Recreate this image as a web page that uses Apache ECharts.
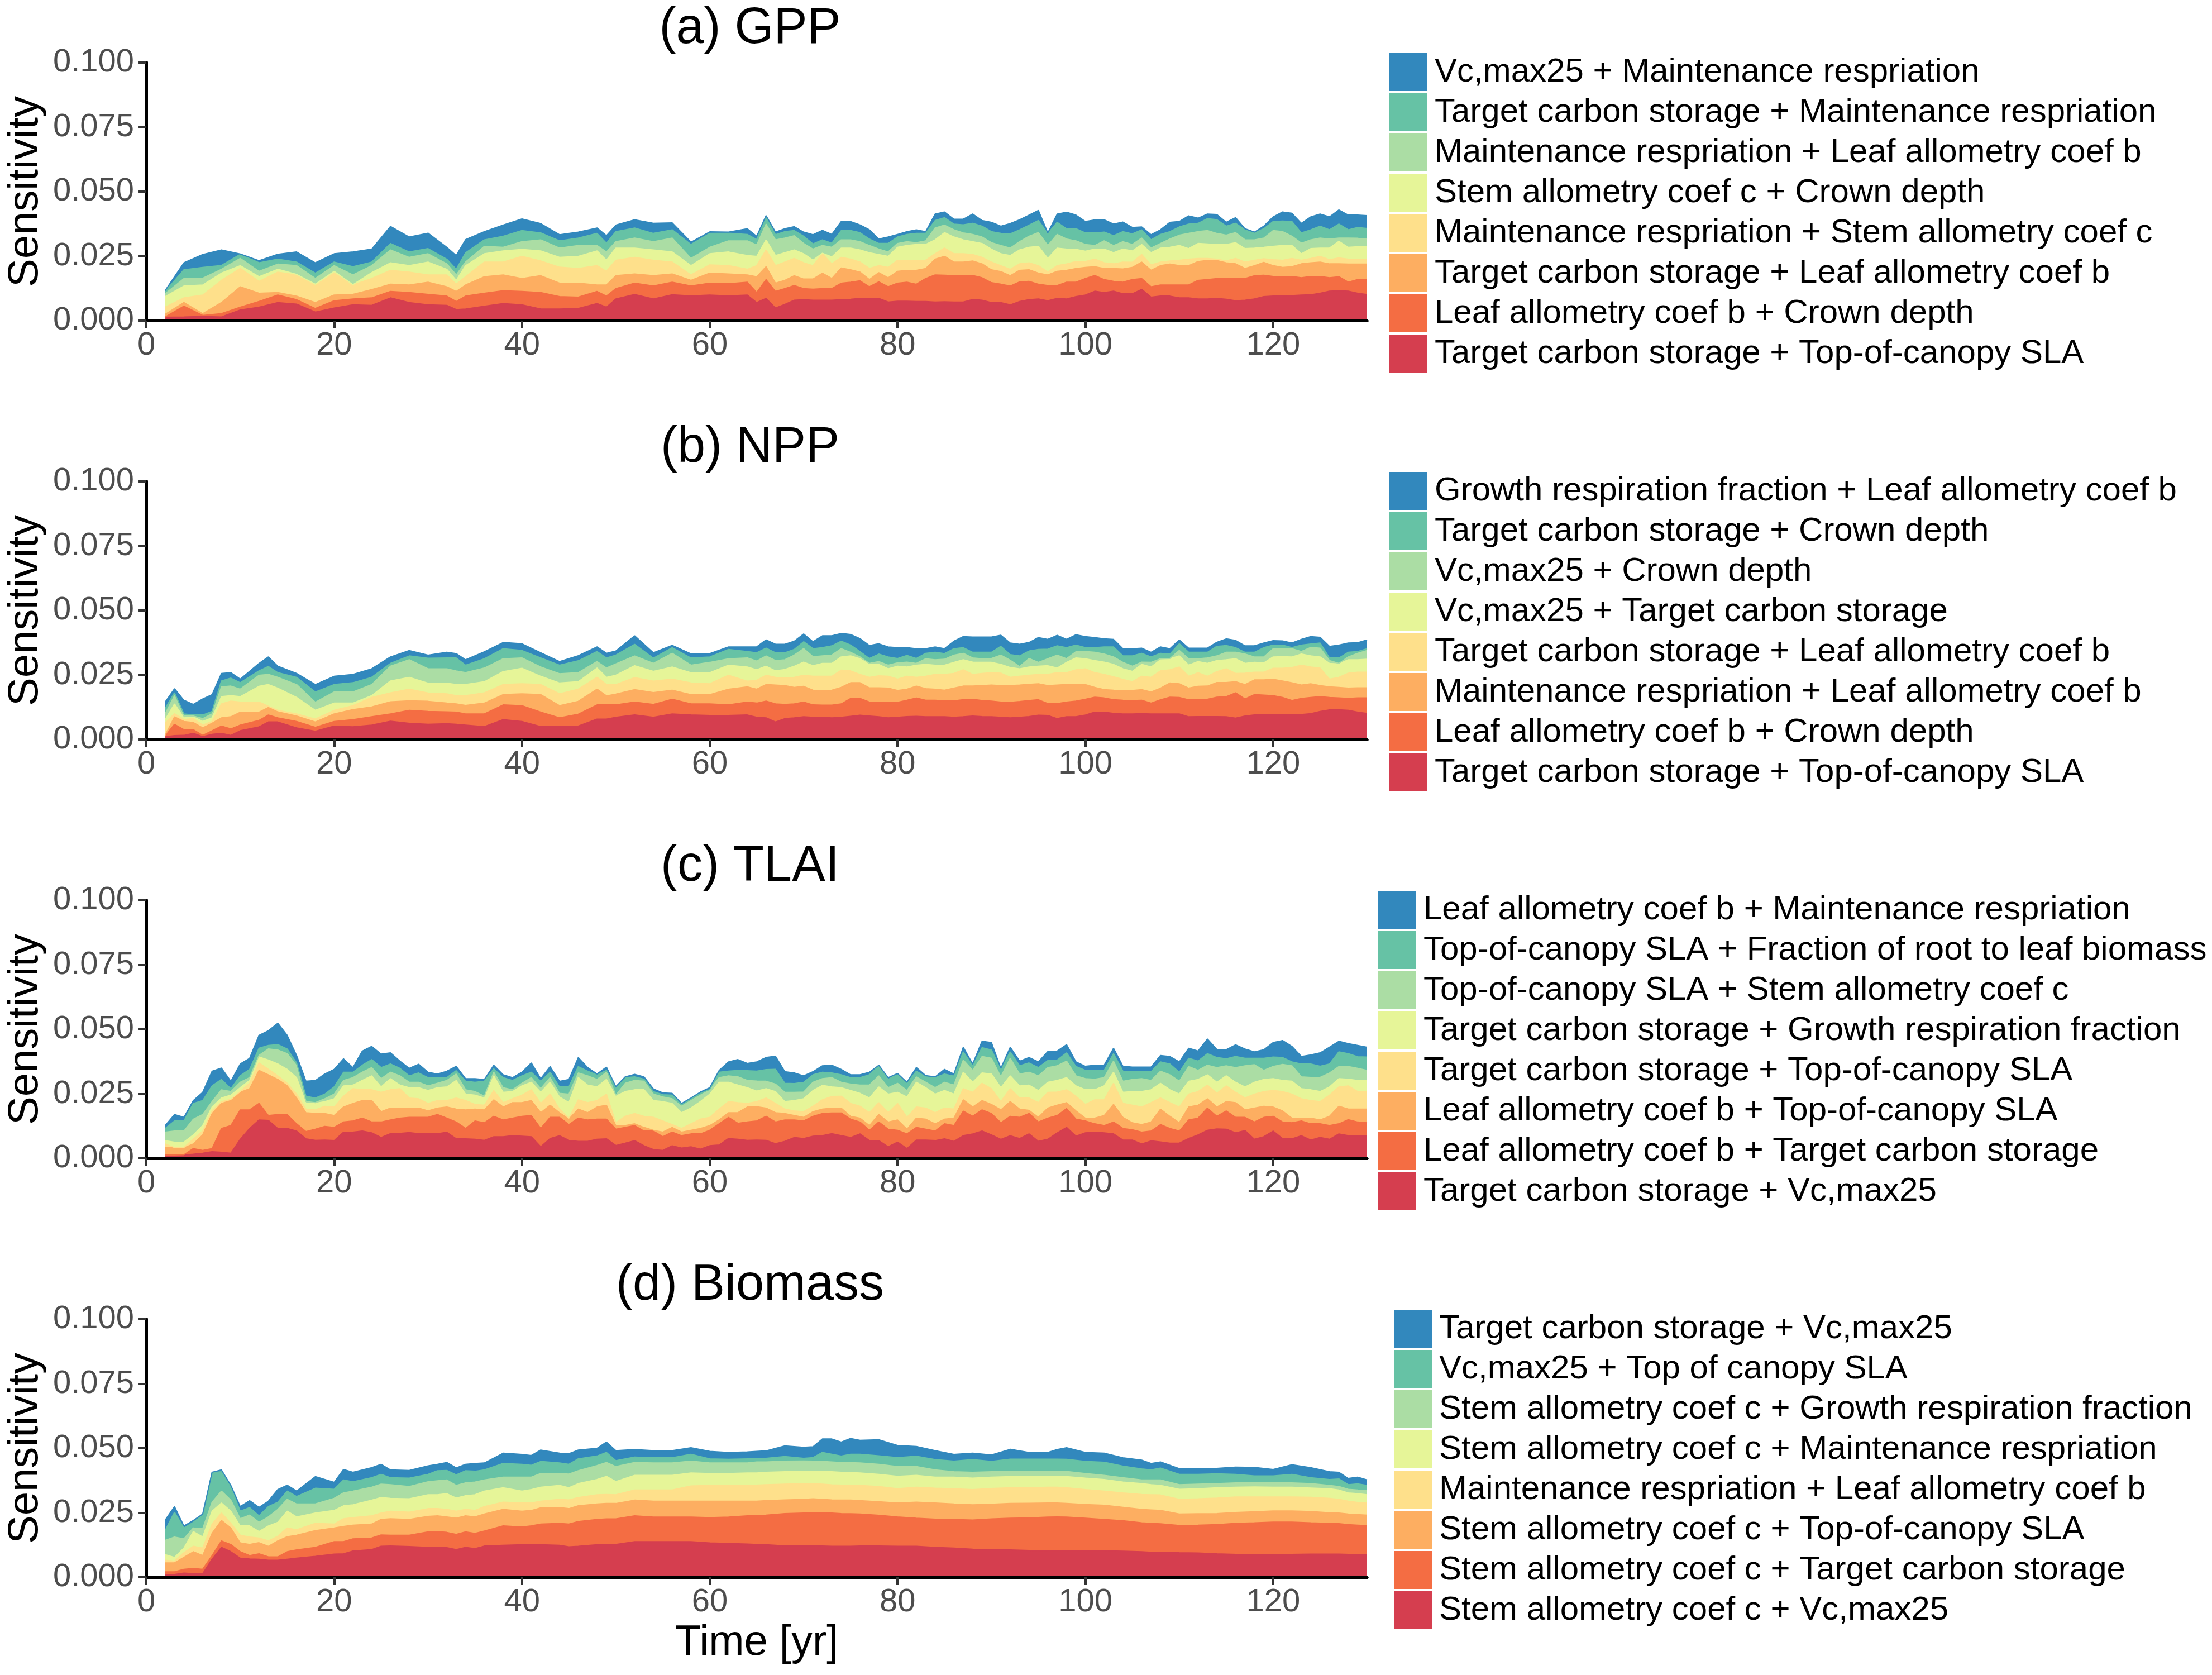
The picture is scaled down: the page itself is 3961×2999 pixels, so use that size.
<!DOCTYPE html>
<html><head><meta charset="utf-8">
<script src="https://cdn.jsdelivr.net/npm/echarts@6/dist/echarts.min.js"></script>
<style>html,body{margin:0;padding:0;background:#fff}#c{width:3961px;height:2999px}</style>
</head><body><div id="c"></div><script>
// Spectral palette, bottom layer -> top layer
const COLORS = ['#D53E4F','#F46D43','#FDAE61','#FEE08B','#E6F598','#ABDDA4','#66C2A5','#3288BD'];
const FONT = 'Liberation Sans, Arial, sans-serif';
const X_MAX = 130, X_STEP = 20, Y_MAX = 0.1, Y_STEP = 0.025;
const UNIT = 1e-3; // the "Tops" arrays below are in units of 1e-3 (sensitivity)

// ---------- (a) GPP ----------
const gppNames = ['Vc,max25 + Maintenance respriation','Target carbon storage + Maintenance respriation','Maintenance respriation + Leaf allometry coef b','Stem allometry coef c + Crown depth','Maintenance respriation + Stem allometry coef c','Target carbon storage + Leaf allometry coef b','Leaf allometry coef b + Crown depth','Target carbon storage + Top-of-canopy SLA'];
const gppYears = [2,4,6,8,10,12,14,16,18,20,22,24,26,28,30,32,33,34,36,38,40,42,44,46,48,49,50,52,54,56,58,60,62,64,65,66,67,68,69,70,71,72,73,74,75,76,77,78,79,80,81,82,83,84,85,86,87,88,89,90,91,92,93,94,95,96,97,98,99,100,101,102,103,104,105,106,107,108,109,110,111,112,113,114,115,116,117,118,119,120,121,122,123,124,125,126,127,128,129,130];
// cumulative top of each stacked layer (bottom -> top)
const gppTops = [
[1.3,1.4,2.4,5.2,9.3,10.4,11.3,11.6],[1.4,5.6,7.0,8.8,13.4,16.3,19.7,22.4],[1.6,2.0,2.7,9.9,13.8,16.4,20.6,25.6],[1.4,2.7,7.0,15.6,18.4,19.9,21.4,27.4],
[4.1,5.2,13.1,20.2,21.3,24.1,25.7,25.8],[5.2,7.4,10.6,15.2,17.0,19.1,22.4,23.2],[7.0,9.9,10.9,18.8,19.9,21.9,23.8,25.7],[6.4,8.1,9.5,17.7,17.9,21.3,22.7,26.6],
[3.3,4.7,7.0,13.6,14.1,16.3,18.4,22.4],[4.9,7.7,9.9,18.4,19.1,21.3,22.7,25.9],[6.1,8.4,10.2,13.8,13.9,17.7,20.9,26.6],[5.9,8.8,12.0,16.3,18.6,21.3,22.7,27.7],
[8.8,11.3,14.1,19.5,22.4,27.4,29.9,36.5],[7.0,10.9,13.8,18.8,21.3,24.5,26.6,32.4],[6.1,10.2,14.9,17.7,22.7,25.9,27.9,33.9],[5.9,9.5,13.1,17.7,19.9,22.0,23.8,28.4],
[4.3,7.4,11.3,14.1,15.6,17.7,19.9,25.2],[4.5,9.5,13.8,17.0,21.3,22.7,26.3,31.4],[5.6,10.6,17.0,22.7,25.9,28.8,31.3,34.5],[6.6,11.6,17.7,22.7,27.0,28.4,32.7,37.0],
[6.1,11.3,16.3,24.9,27.6,30.6,34.9,39.4],[4.5,10.9,17.4,23.1,27.0,31.3,34.0,37.6],[4.5,9.3,14.5,20.7,24.5,28.1,30.9,33.3],[4.7,9.1,14.5,20.2,24.9,29.1,32.0,34.3],
[6.6,11.3,13.8,21.3,27.0,29.1,33.8,35.9],[5.2,9.5,13.8,19.1,23.4,26.6,30.0,32.9],[8.4,12.4,17.4,23.4,28.1,30.6,34.5,37.0],[10.1,14.5,18.1,24.5,28.1,32.0,35.9,39.1],
[8.4,13.4,17.4,23.4,27.4,30.6,33.8,37.7],[10.0,14.9,18.1,22.7,26.6,32.0,35.2,37.9],[9.6,13.4,15.6,17.7,21.3,24.1,29.5,30.4],[9.9,14.5,18.4,21.6,25.9,28.4,33.8,34.4],
[9.6,14.3,18.1,21.3,26.6,30.9,33.9,34.3],[9.9,14.9,17.7,19.9,25.2,30.9,33.4,35.6],[7.0,10.9,17.0,21.3,24.9,29.3,31.4,32.7],[8.6,15.9,20.9,27.4,31.3,37.4,39.9,40.7],
[4.9,11.3,14.5,21.3,25.2,31.3,33.3,34.3],[6.3,12.4,15.6,22.7,26.3,32.0,34.5,35.6],[7.9,13.6,17.4,24.1,27.4,32.9,34.9,36.4],[8.1,12.4,16.1,22.4,25.9,29.9,32.7,34.3],
[7.9,12.2,16.1,21.3,23.4,27.7,29.7,33.3],[7.9,12.4,18.4,25.9,26.1,29.1,31.3,35.0],[7.9,12.4,16.3,22.0,24.7,28.4,30.0,33.4],[8.1,14.5,20.4,24.5,28.1,31.3,34.9,38.4],
[8.3,14.9,19.7,23.8,28.1,31.3,34.9,38.4],[8.6,15.4,18.8,22.7,27.4,30.6,34.1,37.1],[8.6,13.1,15.9,20.2,26.3,29.1,31.6,35.2],[8.6,15.0,18.6,21.3,25.6,27.7,29.9,31.6],
[7.2,13.1,16.6,20.6,24.9,26.6,29.9,32.4],[7.5,14.5,19.1,23.4,28.4,29.9,32.4,33.4],[7.5,14.9,19.5,23.4,29.1,30.6,33.4,34.5],[7.4,14.1,19.5,23.4,29.5,30.2,33.8,35.2],
[7.4,16.3,20.2,23.4,29.5,30.9,33.8,34.5],[7.2,17.7,23.8,25.9,31.3,35.9,38.8,41.3],[7.3,17.6,24.9,28.1,34.1,37.0,39.9,42.1],[7.2,17.4,22.7,25.9,32.4,35.2,37.4,39.3],
[7.2,17.4,22.7,25.9,31.3,34.0,37.1,39.3],[8.2,17.5,23.1,25.6,30.6,33.4,37.7,41.3],[7.9,16.6,22.0,24.5,29.9,32.4,36.6,38.8],[7.0,14.7,19.7,22.7,27.7,30.2,34.5,38.1],
[7.0,14.1,19.0,21.3,25.9,29.1,33.8,36.6],[6.1,13.4,17.4,19.9,25.2,28.1,33.6,37.6],[7.4,15.0,19.5,22.0,27.4,30.6,35.2,39.1],[8.1,15.2,19.7,22.4,28.4,32.7,37.0,40.9],
[8.4,14.1,18.4,21.3,28.8,34.1,38.8,42.7],[7.7,13.6,17.7,18.8,24.1,29.1,33.8,34.0],[8.6,13.6,19.1,21.3,28.1,33.4,38.1,41.3],[8.4,14.9,19.5,22.0,27.7,31.6,35.6,42.0],
[9.3,14.9,20.2,22.9,27.6,30.9,35.6,40.9],[9.9,16.3,20.6,22.9,26.9,29.5,34.0,38.4],[11.4,17.5,20.9,23.8,27.7,29.1,34.0,39.0],[10.9,15.9,20.2,22.4,27.7,30.9,34.3,39.1],
[11.4,15.2,20.2,22.0,26.3,29.1,32.9,37.4],[10.4,14.9,20.0,22.7,27.7,30.6,34.5,38.2],[10.4,15.9,20.6,22.6,27.0,29.5,33.6,36.1],[12.1,16.3,22.7,25.6,29.5,32.0,35.2,36.3],
[9.1,13.1,19.5,21.6,26.3,28.1,31.3,33.3],[9.5,13.8,21.3,22.7,28.1,29.9,33.4,35.2],[9.5,13.8,21.9,23.1,28.4,31.6,34.5,38.1],[8.8,13.8,21.3,23.4,29.1,33.1,36.3,38.4],
[8.8,13.8,21.3,23.8,27.9,33.8,37.4,40.6],[8.4,15.6,22.9,24.1,29.9,34.5,37.7,39.7],[8.4,15.9,23.3,24.1,29.7,34.9,39.5,41.3],[8.6,16.3,23.3,23.8,29.5,33.8,39.1,41.1],
[8.3,16.3,22.4,23.1,29.5,33.1,36.6,38.1],[7.7,16.4,22.0,24.1,30.2,34.1,37.7,39.9],[7.9,16.3,20.2,22.7,27.9,31.3,35.2,35.6],[8.4,17.4,21.3,23.4,28.1,31.3,34.0,34.3],
[9.3,17.6,22.6,24.0,28.4,32.0,35.6,36.6],[9.5,17.1,21.3,23.6,28.8,34.9,38.4,40.2],[9.5,17.1,20.6,23.4,29.1,34.5,38.6,42.1],[9.7,17.1,20.9,24.1,29.1,32.7,38.4,41.6],
[9.9,16.6,22.0,23.4,25.9,30.0,34.0,37.7],[10.0,17.1,22.4,24.1,27.9,31.3,35.2,40.2],[10.6,17.1,22.7,24.9,28.1,32.0,36.6,41.3],[11.4,16.6,22.0,23.6,28.1,31.6,35.2,40.2],
[11.6,17.0,22.0,24.3,30.7,32.0,37.4,42.9],[11.4,14.9,21.9,23.8,28.4,32.0,35.2,40.9],[10.6,15.9,21.9,23.8,28.6,31.9,36.1,40.9],[10.1,15.9,21.9,23.8,28.6,31.6,35.7,40.7]
];

// ---------- (b) NPP ----------
const nppNames = ['Growth respiration fraction + Leaf allometry coef b','Target carbon storage + Crown depth','Vc,max25 + Crown depth','Vc,max25 + Target carbon storage','Target carbon storage + Leaf allometry coef b','Maintenance respriation + Leaf allometry coef b','Leaf allometry coef b + Crown depth','Target carbon storage + Top-of-canopy SLA'];
const nppYears = [2,3,4,5,6,7,8,9,10,12,13,14,16,18,20,22,24,26,28,30,32,33,34,36,38,40,42,44,46,48,49,50,52,54,56,58,60,62,64,65,66,67,68,69,70,71,72,73,74,75,76,77,78,79,80,81,82,83,84,85,86,87,88,89,90,91,92,93,94,95,96,97,98,99,100,101,102,103,104,105,106,107,108,109,110,111,112,113,114,115,116,117,118,119,120,121,122,123,124,125,126,127,128,129,130];
const nppTops = [
[1.1,1.3,1.6,6.3,7.7,9.9,12.0,14.5],[1.5,5.9,8.8,10.0,13.8,17.0,18.1,19.7],[1.6,3.8,7.0,7.7,8.4,9.1,9.9,15.2],[2.4,3.8,6.6,8.1,8.8,9.1,9.5,13.6],
[1.1,1.6,4.5,5.6,7.0,8.1,9.5,15.7],[2.0,3.4,6.3,7.0,8.4,9.9,10.9,17.4],[2.4,5.2,8.4,13.8,16.6,20.4,22.7,25.6],[1.6,4.1,8.8,14.9,17.0,20.7,23.8,25.9],
[3.4,5.6,10.6,14.5,16.6,19.5,22.0,23.4],[4.9,7.4,10.6,14.5,20.6,24.9,26.6,29.5],[6.8,9.5,12.4,12.9,21.3,25.2,28.3,32.0],[6.8,8.4,10.7,11.3,19.9,24.1,25.9,28.4],
[4.5,7.0,9.1,9.9,16.3,21.3,24.1,25.6],[3.2,4.7,6.8,7.9,11.3,14.4,18.4,21.3],[5.2,7.0,9.9,11.3,14.1,18.4,21.3,24.5],[4.9,7.7,11.6,13.1,14.1,18.4,22.0,25.2],
[5.6,8.8,12.6,16.3,17.0,21.3,24.1,27.4],[7.1,9.9,14.6,18.1,22.7,28.4,29.5,32.0],[6.3,11.3,15.0,19.5,24.1,30.9,32.4,34.5],[5.9,10.9,14.8,18.0,21.8,27.4,31.5,32.7],
[6.1,10.7,14.1,17.7,21.8,27.4,31.6,33.8],[5.9,10.6,13.8,17.0,21.3,26.6,31.6,33.3],[5.6,9.9,13.2,17.0,21.3,25.9,28.8,30.9],[5.0,9.9,14.1,18.1,22.4,27.7,31.3,34.0],
[7.7,13.4,17.4,21.3,26.3,31.3,35.2,37.6],[7.0,13.1,17.7,21.6,27.6,31.6,34.5,37.1],[5.0,10.6,17.4,21.3,24.5,28.1,31.6,33.6],[5.2,8.4,13.1,17.7,21.9,25.5,28.8,30.2],
[5.2,9.8,14.8,19.5,22.4,25.9,30.5,32.5],[7.9,13.4,19.5,24.1,27.7,30.2,34.1,35.9],[7.9,13.4,16.9,21.3,24.1,27.7,31.6,33.4],[8.6,13.4,17.6,21.3,24.9,29.3,32.7,34.3],
[9.5,14.5,19.3,24.0,28.6,32.4,36.9,40.2],[8.6,13.6,18.2,22.6,26.4,29.5,31.5,33.6],[9.9,15.6,19.1,23.4,28.1,33.4,35.6,36.5],[9.5,13.8,17.4,21.9,25.9,28.8,31.6,33.2],
[9.3,13.8,17.4,21.6,25.9,29.9,32.0,33.3],[9.3,13.4,19.5,24.9,28.8,31.3,34.9,35.9],[9.5,14.5,20.4,22.6,28.1,31.6,34.1,35.9],
[8.6,14.1,19.5,22.9,27.0,30.4,33.6,35.9],[8.4,14.9,21.3,24.9,28.4,32.4,35.4,38.6],[6.8,13.8,21.1,24.1,26.6,30.6,33.6,36.9],[8.1,13.6,20.9,24.0,27.1,30.9,33.6,36.9],
[8.4,13.8,20.2,24.1,28.4,32.7,34.9,38.1],[8.8,14.5,20.6,24.9,30.0,35.2,37.9,40.9],[8.6,13.4,19.1,24.5,28.6,32.1,35.2,37.9],[8.6,13.3,19.0,24.5,29.5,32.4,35.6,40.2],
[8.4,13.3,19.1,24.5,29.5,32.7,36.3,40.2],[8.6,13.8,20.2,26.9,32.0,35.2,38.1,41.1],[9.0,15.9,22.0,26.6,32.4,33.8,36.6,40.7],[9.4,15.9,22.0,25.2,31.3,32.0,34.1,39.1],
[9.1,14.5,20.0,24.1,29.1,29.5,31.4,36.4],[8.8,14.4,20.0,24.7,29.1,30.2,33.1,37.1],[8.4,14.3,19.9,24.5,27.4,28.8,32.0,35.9],[8.6,14.4,19.0,23.4,28.4,29.7,31.4,35.6],
[8.9,15.2,19.5,24.5,28.1,30.0,32.6,35.6],[9.0,16.1,20.7,24.1,28.8,29.5,31.4,35.2],[8.8,15.2,19.7,24.5,29.1,31.3,33.4,35.2],[8.8,15.2,19.5,25.2,28.8,30.9,33.8,35.9],
[8.8,15.0,19.1,25.2,28.8,31.1,33.3,35.2],[8.6,15.0,19.9,25.6,29.9,32.7,35.2,38.1],[8.8,15.4,20.7,27.0,30.9,33.4,35.6,39.9],[9.1,15.6,20.7,25.2,30.0,31.6,33.8,39.7],
[8.9,15.1,20.9,25.6,29.9,31.3,33.8,39.7],[8.8,14.9,21.1,25.9,29.9,31.4,33.8,39.7],[8.6,14.5,20.9,25.7,29.1,32.7,36.1,40.4],[8.4,14.4,20.9,24.1,27.9,30.7,32.9,37.4],
[8.6,14.7,21.1,24.5,27.4,28.3,32.4,36.9],[8.9,15.1,21.4,24.9,28.1,31.4,34.3,37.6],[9.4,15.4,21.6,25.2,28.4,29.9,34.9,39.5],[9.3,13.9,20.9,25.2,28.6,31.3,35.0,38.8],
[8.1,13.9,21.1,25.9,27.7,32.7,36.3,40.4],[8.8,14.5,21.3,25.9,29.9,31.3,35.6,38.8],[8.8,14.9,21.3,27.0,31.6,34.0,36.6,40.6],[9.5,15.6,21.3,27.4,31.3,34.1,35.6,39.9],
[10.6,16.4,20.2,25.9,30.6,33.8,35.6,39.5],[10.6,16.1,19.3,25.2,30.0,33.1,35.9,39.0],[10.1,15.4,19.1,24.3,29.1,32.0,35.9,38.8],[9.9,15.2,19.0,23.3,27.4,29.9,32.4,35.2],
[9.9,15.1,19.0,22.4,26.4,28.4,32.4,35.2],[10.0,15.2,19.3,24.5,29.1,30.0,33.4,35.4],[9.9,14.1,18.4,24.1,28.1,29.9,32.0,33.8],[9.9,15.4,19.9,26.6,30.9,31.3,33.4,35.9],
[9.9,16.4,21.9,27.0,31.3,31.4,33.1,35.2],[9.9,16.3,21.6,28.1,32.4,34.5,37.1,38.6],[8.8,15.4,19.9,24.5,28.8,31.3,33.8,35.4],[8.9,15.4,20.6,25.9,30.2,31.3,33.8,35.4],
[8.9,15.6,20.7,24.5,29.5,31.6,33.8,35.4],[8.9,16.4,22.1,26.3,30.6,32.4,36.1,37.7],[8.8,16.6,22.1,27.4,30.9,33.8,36.4,39.0],[8.3,18.1,22.4,25.6,31.3,33.8,35.6,38.4],
[9.1,15.7,21.3,25.7,29.5,33.1,33.8,36.3],[9.5,17.4,23.1,26.1,29.9,32.0,33.8,36.3],[9.6,17.2,23.1,26.1,29.7,32.0,35.6,37.4],[9.6,17.0,23.3,27.6,32.0,35.2,36.6,38.3],
[9.6,16.3,22.7,27.6,32.1,35.2,36.6,38.2],[9.6,15.1,22.0,27.9,32.0,35.2,35.6,37.4],[9.7,15.9,21.1,28.8,33.1,34.1,36.6,38.8],[10.0,16.3,21.6,28.1,32.4,35.7,37.0,39.9],
[10.9,16.6,20.9,27.7,32.0,35.4,37.4,39.6],[11.5,16.3,20.4,23.4,29.5,30.6,31.6,36.1],[11.5,16.1,20.2,24.1,29.3,29.5,31.6,36.6],[11.3,15.9,19.9,25.7,30.9,32.0,33.8,37.4],
[10.6,16.1,20.0,26.1,30.9,33.4,34.1,37.5],[10.1,16.1,20.0,26.1,31.1,34.5,35.2,38.6]
];

// ---------- (c) TLAI ----------
const tlaiNames = ['Leaf allometry coef b + Maintenance respriation','Top-of-canopy SLA + Fraction of root to leaf biomass','Top-of-canopy SLA + Stem allometry coef c','Target carbon storage + Growth respiration fraction','Target carbon storage + Top-of-canopy SLA','Leaf allometry coef b + Top-of-canopy SLA','Leaf allometry coef b + Target carbon storage','Target carbon storage + Vc,max25'];
const tlaiYears = [2,3,4,5,6,7,8,9,10,11,12,13,14,15,16,17,18,19,20,21,22,23,24,25,26,27,28,29,30,31,32,33,34,35,36,37,38,39,40,41,42,43,44,45,46,47,48,49,50,51,52,53,54,55,56,57,58,59,60,61,62,63,64,65,66,67,68,69,70,71,72,73,74,75,76,77,78,79,80,81,82,83,84,85,86,87,88,89,90,91,92,93,94,95,96,97,98,99,100,101,102,103,104,105,106,107,108,109,110,111,112,113,114,115,116,117,118,119,120,121,122,123,124,125,126,127,128,129,130];
const tlaiTops = [
[1.1,1.3,4.1,5.6,6.9,10.2,11.6,12.7],[1.1,1.3,4.1,4.2,6.3,10.6,14.5,17.0],[1.3,1.4,4.1,4.2,6.3,10.6,14.5,15.9],[1.6,3.8,5.6,7.4,9.1,15.2,21.3,22.4],
[2.0,3.1,9.1,10.6,12.7,17.0,22.4,25.6],[2.6,3.8,17.4,18.4,19.9,22.0,28.1,33.8],[2.4,11.6,21.3,22.0,23.4,26.6,30.6,35.0],[2.0,12.7,22.4,22.9,24.5,25.9,27.0,29.9],
[7.4,18.8,25.6,25.9,27.4,29.5,32.0,36.6],[11.6,18.8,27.0,29.1,30.2,31.3,34.5,38.8],[14.9,21.3,34.1,37.0,39.3,39.9,42.7,47.7],[14.7,16.6,32.4,34.5,38.1,42.4,43.8,49.5],
[11.6,17.0,30.6,32.0,36.6,42.0,44.1,52.4],[11.6,17.0,28.1,29.1,34.5,40.6,42.4,47.7],[10.6,13.4,23.4,24.9,31.3,35.9,37.0,39.9],[7.6,10.4,17.7,19.1,21.3,22.0,24.1,29.9],
[7.0,11.3,17.4,18.8,21.3,21.6,23.4,30.2],[7.1,12.4,17.4,20.2,22.0,23.1,24.9,32.7],[6.9,12.0,16.6,19.9,23.1,24.9,27.7,34.5],[10.2,14.1,19.9,24.1,28.1,30.2,33.4,38.6],
[10.2,14.5,21.3,27.0,28.4,31.3,33.4,35.2],[10.6,15.6,22.4,26.6,30.2,33.4,36.1,41.6],[9.9,14.1,22.4,26.6,32.0,35.2,38.3,43.4],[8.1,14.1,18.1,25.6,27.7,30.9,35.2,40.4],
[9.6,14.9,19.5,26.6,30.9,33.4,36.6,40.9],[9.7,15.6,19.5,27.0,28.4,32.0,34.9,37.7],[10.0,15.9,19.5,23.4,27.4,29.5,32.0,34.9],[9.6,15.9,19.5,23.1,27.4,29.5,33.1,36.5],
[9.6,15.9,18.4,21.3,26.3,28.1,31.3,33.4],[9.6,17.0,19.5,22.4,27.4,29.1,31.3,32.7],[10.1,15.6,19.9,22.4,27.7,30.2,31.3,33.8],[7.6,14.1,19.1,23.4,30.2,32.7,34.0,35.7],
[7.6,11.6,18.8,22.4,24.9,26.6,29.9,30.9],[7.4,14.5,19.1,20.9,24.5,25.9,29.5,30.9],[7.0,13.8,18.8,20.6,23.4,24.1,29.9,30.6],[8.4,16.3,22.7,26.3,32.0,33.4,34.7,36.1],
[8.4,14.9,19.9,21.6,25.6,27.4,31.3,32.4],[8.8,15.6,21.6,23.1,25.9,26.6,30.2,31.3],[8.6,16.3,21.6,24.5,28.1,29.1,32.0,33.4],[8.4,16.6,22.4,26.6,29.5,31.3,33.4,37.0],
[4.5,11.6,17.7,21.3,25.6,27.0,29.9,30.9],[7.7,15.9,20.6,24.9,29.5,31.3,33.4,35.6],[8.8,15.9,17.7,19.1,23.8,25.2,27.7,29.9],[7.0,13.1,15.2,15.6,21.6,24.9,27.7,30.6],
[6.6,15.6,19.1,22.7,31.3,33.1,35.6,39.1],[6.6,14.9,17.7,21.6,28.4,32.0,33.8,35.2],[7.4,15.2,19.9,22.4,27.7,30.6,32.4,32.7],[7.6,15.2,20.6,24.9,30.6,33.4,34.1,35.4],
[5.0,11.3,12.7,13.8,24.1,24.5,27.7,27.8],[5.9,12.0,12.7,16.3,25.9,29.1,31.3,31.6],[6.9,12.7,13.4,17.4,26.6,30.2,31.6,32.6],[4.9,10.6,12.0,16.3,26.6,29.9,30.7,31.6],
[3.4,10.6,10.9,15.9,22.4,24.9,25.9,26.9],[3.1,8.4,10.2,14.5,22.0,23.8,24.7,25.4],[4.9,10.2,12.0,13.1,21.3,23.1,24.5,25.2],[4.0,8.8,10.2,11.6,17.7,20.2,20.9,21.3],
[4.5,9.5,10.9,13.4,19.5,22.4,23.1,23.4],[3.6,9.5,11.6,15.2,22.0,24.5,25.2,25.7],[4.9,10.9,12.7,15.9,24.9,26.6,26.7,27.4],[5.2,13.4,14.9,19.1,29.5,31.3,33.4,34.1],
[7.7,15.9,17.7,22.0,29.5,32.0,33.8,37.4],[7.4,13.6,17.7,21.6,28.4,31.6,34.1,38.3],[7.0,14.1,19.9,21.3,27.4,30.2,34.0,36.8],
[7.1,14.5,20.0,22.0,26.1,30.0,33.8,37.4],[7.0,16.3,19.5,23.4,27.0,29.9,34.4,39.1],[5.7,14.1,17.7,21.3,25.9,28.8,34.5,39.6],[6.6,14.9,17.4,19.1,22.0,25.6,29.1,33.6],
[8.1,14.9,16.6,18.4,22.4,25.6,29.0,33.1],[7.7,14.5,15.9,18.1,23.1,25.7,29.5,32.0],[8.6,16.3,18.1,20.2,26.3,29.5,32.4,33.6],[8.8,17.4,19.1,22.7,28.3,30.9,33.4,35.9],
[9.6,17.6,19.5,24.0,27.7,31.3,33.1,36.1],[8.8,17.6,19.5,24.1,27.4,29.5,32.4,34.5],[8.1,15.2,16.3,21.3,26.3,28.8,31.3,32.4],[9.5,14.1,15.6,20.2,25.2,28.4,31.3,32.4],
[6.9,10.9,12.7,17.7,23.4,28.4,32.4,33.4],[6.9,14.1,17.0,21.6,27.7,32.0,35.9,36.1],[4.5,11.3,14.1,17.7,24.9,27.4,30.6,31.3],[6.3,10.9,14.9,21.3,25.6,29.1,32.7,32.9],
[3.8,9.5,11.3,15.9,23.8,26.3,29.1,29.5],[7.1,12.0,15.6,19.9,29.5,31.6,33.8,35.2],[7.1,11.3,15.2,19.5,27.4,29.5,31.6,32.1],[6.9,10.6,13.4,17.7,24.9,27.4,31.3,31.6],
[7.6,13.4,15.2,19.5,26.3,29.5,32.7,34.5],[6.6,12.7,15.6,19.1,24.9,28.4,31.9,32.7],[8.8,18.3,22.7,27.0,33.4,38.1,41.3,43.1],[9.5,16.3,19.9,25.6,29.5,34.1,35.9,36.6],
[10.6,18.8,22.4,29.1,33.1,39.5,42.9,45.4],[9.1,17.4,20.9,27.0,32.7,38.8,42.0,44.9],[7.4,13.8,18.8,22.0,27.4,31.6,34.5,34.9],[8.8,16.3,22.0,27.0,32.0,38.8,41.3,43.1],
[7.7,15.9,19.1,23.4,28.1,32.7,35.9,37.7],[9.5,17.4,18.6,23.4,28.4,33.4,37.0,39.1],[6.6,14.1,15.9,21.6,26.3,32.0,35.2,37.4],[7.4,15.6,19.5,25.6,29.5,35.2,37.9,41.4],
[9.9,16.6,20.6,25.7,30.2,35.9,38.1,41.6],[12.0,19.3,21.6,26.6,31.3,37.7,40.9,44.1],[8.6,15.2,18.4,24.1,28.1,32.0,35.6,37.4],[9.9,14.5,15.6,20.9,26.6,30.9,34.1,35.7],
[10.2,13.4,15.6,22.7,26.6,30.7,34.1,36.1],[9.9,12.7,16.6,22.7,28.1,31.3,34.1,36.1],[9.5,14.1,20.9,29.1,33.4,37.7,40.6,42.7],[7.1,11.6,15.9,21.3,25.6,29.9,33.8,35.7],
[7.1,11.1,13.8,20.6,25.9,30.6,33.6,35.4],[5.6,10.2,13.1,19.9,25.9,30.9,33.6,35.4],[6.8,10.6,14.1,21.6,26.6,30.2,33.6,35.4],[6.4,13.1,19.1,23.4,29.1,33.8,37.4,39.9],
[5.9,11.6,16.3,21.6,26.6,32.4,36.6,39.5],[5.9,10.6,13.8,19.9,24.9,29.9,33.4,37.4],[7.7,14.9,19.9,24.9,29.9,35.6,38.8,42.7],[9.1,15.6,20.6,25.9,30.6,34.1,37.7,41.6],
[10.9,19.5,23.1,28.4,32.4,36.1,40.6,46.3],[11.4,16.3,19.9,25.2,29.5,35.2,39.1,42.2],[11.3,18.4,22.0,28.1,32.0,35.9,38.6,42.1],[9.9,15.9,21.6,25.6,29.5,35.2,39.5,44.0],
[10.8,15.9,18.8,23.4,27.7,35.9,38.8,42.4],[7.4,14.1,19.5,24.9,29.5,36.3,38.8,41.3],[8.4,15.9,20.2,25.9,30.6,34.1,38.8,42.1],[10.6,16.3,19.9,26.3,30.9,35.6,39.3,44.9],
[7.7,14.1,18.4,25.9,30.2,36.4,39.1,45.7],[7.6,13.8,15.6,24.9,29.9,35.9,37.4,43.4],[8.8,14.5,15.6,23.1,27.0,31.6,36.6,39.5],[7.1,13.4,15.6,22.4,26.6,31.4,36.6,40.1],
[8.1,13.4,14.9,22.0,25.9,31.4,35.7,40.9],[7.4,12.7,16.3,24.5,27.7,33.1,36.6,43.1],[9.5,13.4,20.2,27.7,30.9,35.6,41.3,45.4],[8.8,15.0,19.1,28.1,30.7,35.6,40.6,44.5],
[8.8,14.1,19.1,25.9,30.2,34.9,39.4,43.8],[8.8,13.8,19.1,25.9,30.2,34.1,39.3,43.1]
];

// ---------- (d) Biomass ----------
const bioNames = ['Target carbon storage + Vc,max25','Vc,max25 + Top of canopy SLA','Stem allometry coef c + Growth respiration fraction','Stem allometry coef c + Maintenance respriation','Maintenance respriation + Leaf allometry coef b','Stem allometry coef c + Top-of-canopy SLA','Stem allometry coef c + Target carbon storage','Stem allometry coef c + Vc,max25'];
const bioYears = [2,3,4,5,6,7,8,9,10,11,12,13,14,15,16,18,20,21,22,24,25,26,28,30,31,32,33,34,35,36,38,40,41,42,44,45,46,48,49,50,52,54,56,58,60,62,64,65,66,68,70,71,72,73,74,75,76,78,80,82,84,86,88,90,92,94,96,97,98,100,102,104,106,107,108,110,112,114,116,118,120,122,124,126,127,128,129,130];
const bioTops = [
[1.1,2.1,5.6,6.6,8.8,14.3,18.1,22.1],[1.1,2.1,5.6,6.3,7.7,15.6,25.2,27.4],[1.6,3.1,7.7,9.5,11.3,14.9,19.1,19.9],[1.4,3.4,9.9,12.0,17.7,19.1,21.3,22.0],
[1.4,3.1,8.4,11.3,15.6,18.8,24.1,24.5],[7.0,8.4,17.0,20.6,25.6,29.1,40.6,40.7],[11.6,14.1,22.0,24.9,28.8,33.4,40.9,41.6],[9.9,12.7,19.1,20.9,25.6,29.9,34.9,35.6],
[7.4,9.9,13.3,16.3,19.9,22.7,25.6,27.4],[7.1,8.4,12.7,15.6,19.9,24.1,27.0,29.7],[7.0,9.1,13.4,15.2,17.7,21.3,23.8,27.1],[6.6,7.9,12.0,14.1,19.9,23.4,27.4,29.5],
[6.6,7.9,14.1,15.9,21.3,26.3,29.1,34.0],[7.0,9.9,15.7,19.1,25.6,30.2,33.4,35.7],[7.4,10.6,16.3,18.4,23.4,28.4,31.3,33.4],[8.1,11.6,18.1,20.9,24.9,28.4,34.5,39.0],
[9.0,13.8,19.1,20.6,25.9,30.6,34.1,36.8],[9.1,13.8,19.7,22.7,27.7,32.7,37.7,41.8],[10.2,14.9,20.2,23.1,28.1,33.4,37.0,40.7],[10.7,15.2,20.6,23.8,29.9,34.9,38.6,42.5],
[12.0,16.4,22.4,24.9,30.9,36.1,39.9,43.8],[12.1,16.3,22.7,25.6,30.6,35.9,38.6,41.6],[11.9,16.3,22.4,25.2,30.4,35.2,38.4,41.4],[11.6,17.6,23.6,26.6,32.0,37.0,39.9,43.2],
[11.6,17.7,23.8,26.6,32.0,37.4,41.3,43.8],[11.5,17.4,23.4,26.3,32.4,37.7,41.4,44.5],[10.7,16.6,22.9,25.6,30.7,35.6,39.7,42.4],[11.6,17.6,23.8,26.3,31.6,36.6,41.3,43.8],
[11.1,17.0,23.4,25.9,32.0,36.9,41.1,44.1],[12.1,17.9,24.5,27.4,33.4,37.7,41.6,44.3],[12.4,19.9,26.3,29.1,34.7,38.8,44.1,48.1],[12.6,19.5,25.6,28.8,33.4,38.8,43.8,47.6],
[12.6,19.9,25.9,28.8,34.0,38.8,43.4,47.2],[12.6,20.6,26.9,29.5,34.9,40.2,44.9,49.3],[12.4,20.9,27.0,30.2,35.6,40.2,44.3,48.1],[11.8,20.6,26.6,30.0,34.7,40.0,43.8,47.9],
[12.0,21.6,27.7,30.9,36.3,41.3,45.9,49.3],[12.6,22.4,28.4,32.0,37.9,43.3,47.0,50.0],[12.6,22.6,28.6,32.1,39.1,44.5,48.4,52.4],[12.7,22.6,28.6,32.0,37.1,42.9,45.2,49.1],
[13.8,23.8,29.9,33.8,39.5,44.5,46.6,49.5],[13.8,23.3,29.5,33.8,39.5,44.3,46.3,49.1],[13.8,23.3,29.5,33.8,39.5,44.3,46.3,49.1],[13.8,23.3,29.5,35.4,40.4,45.0,47.7,50.2],
[13.3,23.1,29.5,35.6,40.2,44.3,45.9,48.8],[13.1,23.3,29.5,35.6,40.2,44.3,45.7,48.4],[12.9,23.8,29.5,35.6,40.4,44.3,45.9,48.6],[12.7,23.9,29.5,35.7,40.4,44.7,45.9,48.8],
[12.6,24.1,29.7,35.9,40.7,44.7,46.1,49.0],[12.2,24.7,30.0,36.1,40.9,45.0,46.8,50.9],[12.2,24.9,30.2,36.3,41.1,45.1,46.1,50.4],[12.2,25.0,30.4,36.3,41.1,45.0,46.4,50.6],
[12.1,25.1,30.2,36.1,41.1,44.9,48.4,53.6],[12.0,24.9,30.0,35.8,40.9,44.7,47.7,53.6],[12.0,24.7,29.9,35.7,40.7,44.5,47.0,52.4],[12.0,24.6,29.9,35.7,40.6,44.4,47.7,53.8],
[12.1,24.5,29.7,35.6,40.4,44.3,47.7,53.1],[12.1,24.0,29.3,35.2,39.9,43.8,47.1,53.3],[12.0,23.4,28.8,34.3,39.1,42.9,46.4,51.1],[12.0,22.9,29.1,34.9,39.5,42.9,46.9,50.7],
[11.6,22.5,28.8,34.5,38.8,41.6,45.6,49.1],[11.3,22.4,28.4,34.3,38.8,40.9,45.0,47.6],[10.9,22.2,28.1,34.0,38.4,40.7,45.6,48.1],[10.8,22.6,28.3,34.4,38.8,40.9,44.9,47.4],
[10.6,22.9,28.6,34.7,39.0,41.1,45.8,49.6],[10.4,23.0,28.7,34.7,39.1,41.1,45.8,48.4],[10.3,23.3,28.8,34.9,39.1,41.1,45.8,48.4],[10.3,23.4,28.8,34.9,39.1,41.1,45.8,49.5],
[10.3,23.3,28.6,34.7,39.0,41.0,45.7,50.2],[10.3,22.9,28.2,34.0,38.4,40.2,44.9,48.4],[10.3,22.4,27.9,33.4,37.9,39.5,44.6,48.1],[10.1,21.9,27.1,32.7,36.9,38.6,43.1,46.3],
[9.9,21.1,26.3,32.1,36.3,37.7,42.0,45.4],[9.7,20.9,26.1,32.0,35.9,37.7,41.6,44.1],[9.7,20.7,25.9,31.9,35.6,37.7,42.3,44.7],[9.5,20.1,24.5,30.2,34.1,35.9,39.9,42.1],
[9.4,20.2,24.6,30.4,34.3,36.1,39.9,42.2],[9.1,20.4,24.7,30.7,34.7,36.3,40.1,42.2],[8.9,20.9,25.1,31.1,34.9,36.6,39.9,42.7],[8.8,21.1,25.4,31.1,35.0,36.6,39.3,42.6],
[8.8,21.4,25.7,31.1,34.9,36.6,39.3,41.8],[8.9,21.4,25.7,31.1,34.9,36.6,39.9,43.6],[9.0,21.1,25.5,31.0,34.6,36.3,38.6,42.5],[9.0,20.9,25.0,30.6,34.3,35.6,37.9,40.9],
[9.0,20.8,24.9,30.2,33.8,35.2,38.1,40.7],[8.9,20.4,24.5,29.5,32.7,34.1,35.9,38.3],[8.8,20.2,24.3,29.0,32.4,33.8,36.2,38.8],[8.8,20.0,24.1,28.8,32.0,33.6,35.6,37.7]
];

// ---------- layout ----------
const GRID_LEFT = 262, GRID_W = 2186, GRID_H = 462, GRID_TOP0 = 112, PANEL_STEP = 750, LEGEND_TOP0 = 95;
const TITLE_CENTER_X = 1338;
const panels = [
  {key:'a', title:'(a) GPP', years:gppYears, tops:gppTops, names:gppNames, legendLeft:2488},
  {key:'b', title:'(b) NPP', years:nppYears, tops:nppTops, names:nppNames, legendLeft:2488},
  {key:'c', title:'(c) TLAI', years:tlaiYears, tops:tlaiTops, names:tlaiNames, legendLeft:2468},
  {key:'d', title:'(d) Biomass', years:bioYears, tops:bioTops, names:bioNames, legendLeft:2496}
];

const option = {backgroundColor:'#fff', animation:false, textStyle:{fontFamily:FONT},
  title:[], grid:[], xAxis:[], yAxis:[], legend:[], series:[]};
const axLine = {show:true, lineStyle:{color:'#000', width:5}};
const axTick = {show:true, length:14, lineStyle:{color:'#333', width:4}};

panels.forEach((p,k)=>{
  const top = GRID_TOP0 + k*PANEL_STEP;
  option.grid.push({left:GRID_LEFT, top:top, width:GRID_W, height:GRID_H});
  option.title.push({text:p.title, left:TITLE_CENTER_X, top:top-110, textAlign:'center',
    textStyle:{fontSize:90, fontWeight:'normal', color:'#000', fontFamily:FONT}});
  option.xAxis.push({gridIndex:k, type:'value', min:0, max:X_MAX, interval:X_STEP, position:'bottom', z:10,
    axisLine:axLine, axisTick:axTick, splitLine:{show:false},
    axisLabel:{fontSize:58, color:'#4D4D4D', margin:16, showMaxLabel:false, fontFamily:FONT},
    name: k===3 ? 'Time [yr]' : '', nameLocation:'middle', nameGap:80,
    nameTextStyle:{fontSize:76, color:'#000', fontFamily:FONT}});
  option.xAxis.push({gridIndex:k, type:'value', min:0, max:X_MAX, position:'top', z:10,
    axisLine:axLine, axisTick:{show:false}, axisLabel:{show:false}, splitLine:{show:false}});
  option.yAxis.push({gridIndex:k, type:'value', min:0, max:Y_MAX, interval:Y_STEP, position:'left', z:10,
    axisLine:axLine, axisTick:axTick, splitLine:{show:false},
    axisLabel:{fontSize:58, color:'#4D4D4D', margin:22, fontFamily:FONT, formatter:v=>v.toFixed(3)},
    name:'Sensitivity', nameLocation:'middle', nameGap:173, nameRotate:90,
    nameTextStyle:{fontSize:76, color:'#000', fontFamily:FONT}});
  option.yAxis.push({gridIndex:k, type:'value', min:0, max:Y_MAX, position:'right', z:10,
    axisLine:axLine, axisTick:{show:false}, axisLabel:{show:false}, splitLine:{show:false}});

  const n = Math.min(p.years.length, p.tops.length);
  const layerNames = p.names.slice().reverse(); // bottom -> top
  layerNames.forEach((nm,i)=>{
    const data = [];
    for (let j=0;j<n;j++){
      const cur = p.tops[j][i], below = i ? p.tops[j][i-1] : 0;
      // dimension 0 = sensitivity (y, stacked), dimension 1 = year (x)
      data.push([Math.max(0, cur-below)*UNIT, p.years[j]]);
    }
    option.series.push({type:'line', name:p.key+'|'+nm, xAxisIndex:2*k, yAxisIndex:2*k, stack:'s'+k,
      encode:{x:1, y:0},
      data:data, symbol:'none', showSymbol:false, smooth:false, silent:true, z:2,
      lineStyle:{width:2, color:COLORS[i]}, itemStyle:{color:COLORS[i]},
      areaStyle:{color:COLORS[i], opacity:1}});
  });
  option.legend.push({orient:'vertical', left:p.legendLeft, top:LEGEND_TOP0+k*PANEL_STEP,
    itemWidth:68, itemHeight:68, itemGap:4, padding:0, icon:'rect', selectedMode:false,
    data:p.names.map(nm=>p.key+'|'+nm), formatter:s=>s.slice(2),
    textStyle:{fontSize:60, color:'#000', fontFamily:FONT, lineHeight:68, padding:[0,0,0,8]}});
});

const chart = echarts.init(document.getElementById('c'), null, {renderer:'canvas'});
chart.setOption(option);
</script></body></html>
